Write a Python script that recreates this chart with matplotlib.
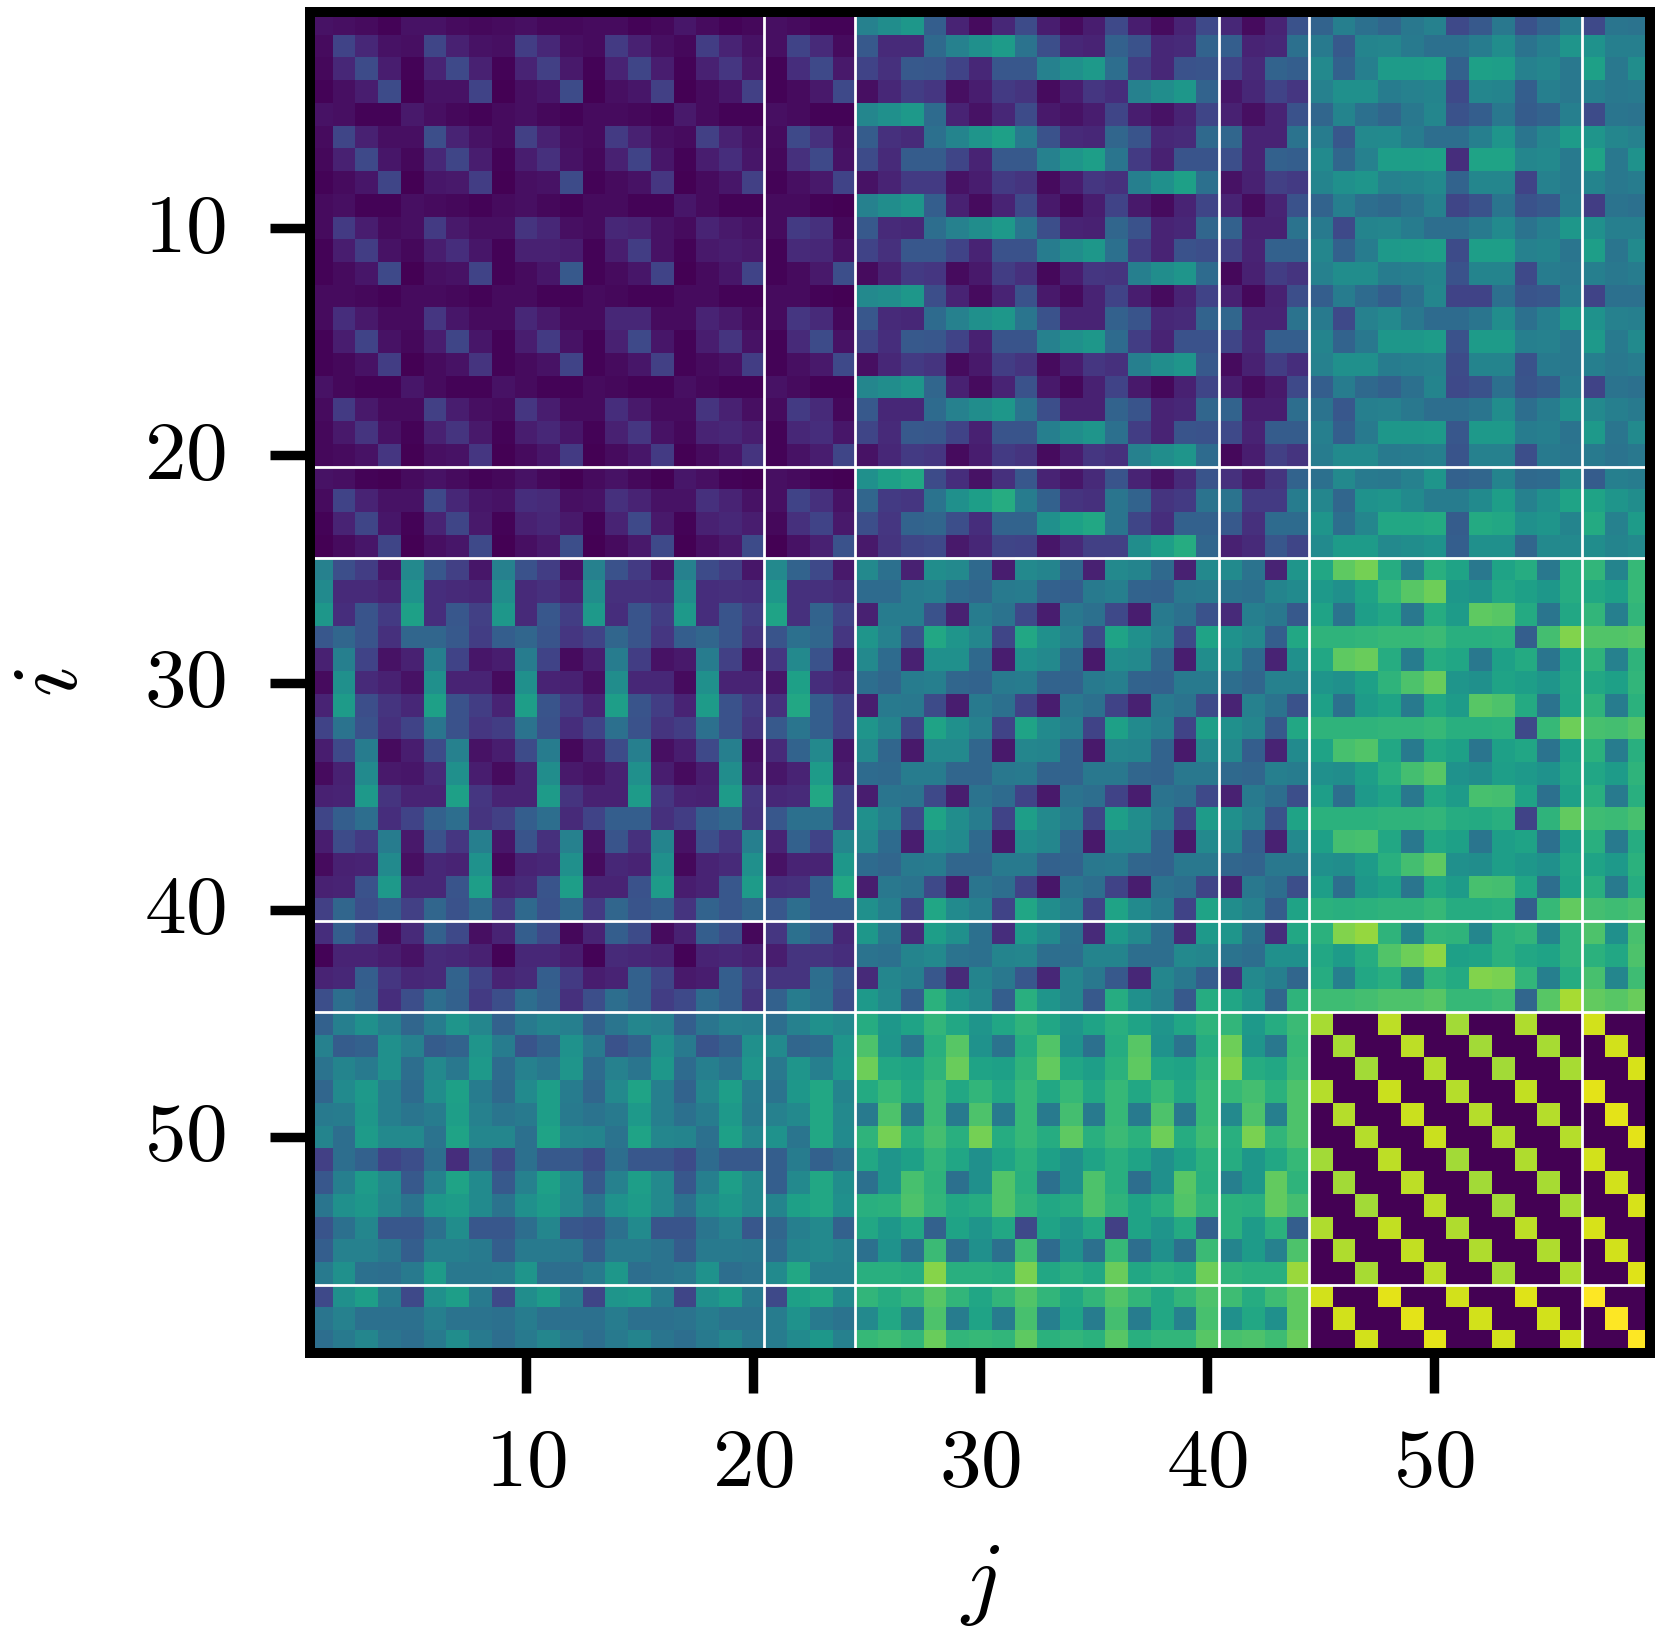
import matplotlib
matplotlib.use('Agg')
import matplotlib.pyplot as plt
import numpy as np

plt.rcParams['mathtext.fontset'] = 'cm'

# cell values in percent of the colour range
rows_01_20 = [
    [5,4,3,1,5,5,3,2,3,4,2,2,3,3,1,2,6,3,1,2, 4,3,1,1, 44,49,53,30,10,3,11,23,8,3,8,22,8,3,10,22, 11,3,10,25, 32,43,37,33,40,44,22,28,40,25,32,42, 22,39,38],
    [3,20,11,5,4,21,9,5,4,18,11,4,3,17,9,4,2,18,10,5, 4,20,12,3, 28,12,12,34,44,50,55,38,24,11,10,31,25,11,12,32, 30,10,11,37, 41,28,45,46,41,37,37,42,49,38,43,52, 51,43,43],
    [2,11,23,8,1,10,22,9,1,10,19,7,1,10,21,8,1,9,16,7, 1,13,22,7, 20,14,28,27,20,11,27,27,44,50,54,36,18,11,25,26, 20,12,32,30, 47,31,43,55,55,56,31,57,56,44,46,40, 57,40,49],
    [1,4,8,23,0,5,5,20,0,4,6,23,0,4,6,19,0,3,6,19, 1,3,7,22, 4,11,18,16,4,8,17,15,3,8,16,13,44,49,53,32, 6,11,20,16, 44,50,50,42,44,45,22,46,45,30,43,40, 43,40,41],
    [5,4,1,1,7,4,2,1,3,4,2,1,3,3,2,1,7,3,1,1, 4,3,1,1, 46,50,54,35,10,5,11,23,7,5,8,21,8,5,10,21, 9,4,10,25, 33,45,37,33,40,46,25,30,40,29,32,43, 23,39,38],
    [3,21,9,4,4,24,10,5,3,19,9,4,3,17,9,4,3,19,9,5, 3,22,14,4, 29,14,12,37,45,52,57,41,25,12,11,33,26,11,12,34, 33,10,10,38, 42,27,47,48,42,36,36,43,52,39,46,55, 52,46,44],
    [2,9,22,6,2,11,21,8,1,8,14,5,2,9,20,6,1,8,13,6, 2,14,22,5, 23,12,29,29,21,10,28,28,44,52,56,39,17,9,26,26, 24,10,31,30, 48,33,44,56,56,57,13,58,58,46,47,41, 58,40,51],
    [1,3,6,21,0,6,7,18,0,4,5,23,1,3,5,16,0,3,6,19, 1,4,7,20, 5,10,17,17,5,8,17,15,3,8,16,14,43,50,57,37, 5,9,19,17, 45,50,52,44,45,47,32,46,46,20,44,41, 45,40,42],
    [3,4,1,1,4,3,2,1,3,4,2,1,3,3,1,1,6,3,1,1, 3,3,1,0, 44,49,52,30,9,3,10,22,7,2,8,20,7,3,10,21, 10,3,10,25, 32,43,36,34,38,44,21,25,39,25,28,42, 18,38,37],
    [3,17,8,3,4,17,7,4,4,15,11,4,3,11,10,5,3,10,7,5, 3,17,14,2, 28,12,11,36,44,49,54,39,24,10,9,33,25,10,11,33, 31,9,9,38, 41,22,45,46,42,36,36,41,48,38,43,53, 50,43,43],
    [1,8,18,5,2,8,13,6,1,9,9,8,1,8,18,5,1,7,8,7, 1,12,11,5, 20,14,27,27,20,10,25,25,42,49,53,37,18,10,25,24, 19,10,31,31, 46,31,42,54,55,56,23,56,56,44,45,39, 56,39,48],
    [1,3,6,22,0,4,5,20,1,3,6,28,1,3,6,20,0,3,6,20, 1,3,7,24, 3,9,17,16,3,7,18,14,2,8,16,15,43,49,52,35, 2,9,18,15, 44,49,49,42,43,45,25,45,45,22,42,40, 43,40,42],
    [3,3,2,1,3,3,2,1,3,3,1,1,3,2,1,1,3,3,1,1, 3,3,1,0, 47,49,53,24,10,3,10,25,7,3,10,20,8,3,10,20, 9,2,9,24, 30,42,35,30,37,46,20,20,37,26,27,42, 20,37,37],
    [3,13,7,3,3,16,6,3,3,11,7,3,3,11,11,3,3,10,7,3, 3,16,12,2, 27,12,11,35,44,50,53,39,25,10,10,31,26,11,12,32, 33,10,10,38, 41,22,44,47,40,35,35,39,49,37,43,53, 51,44,43],
    [1,8,20,5,2,8,21,6,1,8,17,5,1,9,22,6,1,8,15,5, 1,12,23,5, 21,13,28,27,20,9,26,26,44,50,53,35,18,10,25,25, 21,11,30,30, 45,32,40,53,53,55,25,55,55,43,44,40, 54,41,48],
    [1,2,5,18,0,3,5,15,1,3,5,20,1,3,6,19,1,3,5,18, 1,4,7,22, 4,11,17,15,3,7,18,15,3,8,16,14,43,49,52,28, 3,9,18,13, 44,50,50,42,43,44,23,45,45,25,41,40, 43,40,42],
    [5,2,1,1,6,3,1,1,5,3,1,1,3,2,1,1,4,2,1,1, 5,3,1,1, 46,49,52,33,9,3,10,25,7,2,9,20,7,2,9,21, 8,3,7,22, 30,42,34,31,37,45,22,25,37,26,29,42, 20,38,37],
    [3,17,7,3,3,19,8,4,3,16,8,3,3,13,7,3,3,15,9,4, 3,17,12,2, 28,11,11,35,44,49,53,38,24,9,9,32,26,10,11,33, 32,8,8,36, 38,27,43,44,40,36,36,39,49,36,42,50, 47,43,41],
    [2,7,15,5,1,9,15,7,1,8,11,6,1,9,16,5,2,10,11,8, 1,11,13,6, 21,12,28,27,20,9,26,26,43,49,52,37,18,10,26,25, 22,10,29,29, 43,30,41,53,53,54,27,54,54,42,43,38, 54,39,48],
    [2,3,5,16,0,4,5,16,0,3,6,17,0,3,6,17,0,3,6,15, 1,5,8,21, 5,11,17,16,3,8,17,15,3,8,16,14,44,49,52,35, 2,8,19,15, 42,48,48,41,42,43,26,44,44,24,41,39, 41,38,40],
]

rows_21_24 = [
    [5,4,1,0,3,5,3,1,2,5,2,0,3,5,2,0,6,4,1,0, 4,3,1,0, 50,57,60,23,13,5,14,27,10,6,12,26,10,5,12,26, 14,7,15,32, 37,47,41,40,44,52,31,33,45,34,35,47, 29,43,42],
    [3,20,10,5,5,22,11,6,5,13,12,4,5,14,10,5,5,14,10,5, 4,20,14,5, 33,17,16,38,50,56,62,42,31,15,14,39,32,15,17,38, 38,17,17,42, 46,33,51,52,48,42,42,48,56,44,50,58, 58,52,49],
    [1,10,21,6,1,10,21,7,1,9,11,7,1,10,22,7,1,9,11,8, 2,14,20,7, 24,16,32,33,24,13,32,32,50,57,60,39,21,13,31,31, 28,14,35,35, 52,36,46,60,60,61,29,61,60,50,52,45, 61,44,55],
    [0,3,6,21,0,4,6,22,0,4,7,24,0,3,7,22,0,4,7,23, 0,5,9,25, 7,15,21,22,7,11,21,20,6,12,19,19,49,56,62,33, 9,12,27,21, 48,55,55,47,49,51,30,50,50,33,47,47, 49,45,47],
]

rows_25_40 = [
    [44,24,18,6,47,27,19,6,44,25,18,5,44,25,17,6,44,23,18,6, 47,32,22,7, 47,37,9,49,47,34,8,47,45,33,9,47,45,34,9,47, 48,38,10,52, 60,75,79,62,44,63,58,40,58,62,40,62, 66,45,67],
    [48,12,12,10,51,13,12,11,49,12,14,10,49,14,14,13,49,13,14,13, 53,14,14,12, 35,35,42,43,35,33,41,42,31,30,41,43,32,31,40,41, 38,37,45,48, 54,50,58,67,74,78,53,51,60,57,53,62, 60,57,67],
    [53,13,26,17,57,13,27,19,53,12,27,18,54,13,26,18,54,13,26,18, 58,14,32,20, 9,42,42,25,9,42,38,22,8,40,37,22,8,41,37,25, 12,43,40,28, 58,38,56,60,40,62,55,75,74,61,39,60, 66,43,66],
    [27,33,26,14,33,33,28,18,30,33,26,16,20,33,26,16,30,33,26,15, 26,37,33,16, 52,44,25,60,52,46,21,60,50,44,22,58,50,44,22,58, 51,47,30,60, 65,65,66,67,67,68,63,63,64,30,70,81, 73,73,74],
    [9,43,20,5,9,43,20,6,8,42,20,3,8,42,18,5,7,42,19,5, 16,47,25,6, 47,35,9,50,50,34,8,50,47,34,7,49,47,33,8,49, 48,35,10,50, 60,75,77,62,42,62,59,40,57,61,39,58, 65,44,65],
    [3,50,12,9,5,50,10,10,3,50,10,9,4,49,11,11,3,50,10,10, 6,57,13,10, 36,33,42,43,33,32,41,42,32,32,41,43,32,31,41,41, 36,33,44,44, 52,50,57,65,72,77,52,50,58,56,52,60, 60,57,66],
    [10,55,24,15,11,57,25,18,10,56,26,17,10,56,26,18,10,55,25,17, 14,60,30,20, 8,41,40,23,8,41,37,20,8,40,37,20,9,41,38,23, 10,44,38,25, 57,37,55,58,41,60,55,74,72,61,38,59, 65,42,64],
    [20,38,25,14,20,39,25,16,18,38,25,13,20,37,25,15,18,37,25,15, 28,39,30,20, 52,45,21,58,50,44,20,58,48,43,20,57,48,43,20,56, 50,46,28,60, 65,65,65,66,66,67,63,63,64,22,67,78, 71,70,73],
    [8,22,42,3,8,23,44,5,8,23,42,2,8,23,43,4,8,22,43,4, 12,32,47,6, 47,33,7,47,47,33,7,46,45,32,7,46,45,32,7,47, 47,30,10,48, 58,71,73,60,41,60,57,39,57,59,38,57, 64,42,63],
    [3,9,48,7,6,12,50,8,3,10,49,7,5,9,50,8,3,8,49,7, 6,10,55,8, 35,34,42,42,33,33,40,41,32,32,40,40,33,32,40,40, 34,33,43,42, 50,49,56,63,70,74,51,49,56,54,51,59, 59,55,65],
    [9,10,54,15,10,10,57,16,10,10,55,15,9,9,55,16,10,9,55,16, 11,12,60,20, 8,39,38,22,8,38,35,20,7,38,36,20,8,38,36,22, 9,41,36,24, 56,36,54,58,40,60,55,71,70,58,37,57, 63,41,63],
    [21,30,36,13,20,31,36,15,19,30,36,12,20,30,30,14,18,30,34,15, 27,37,37,20, 50,43,22,58,49,42,20,56,47,42,21,56,49,41,20,55, 50,44,25,58, 64,64,64,65,65,66,62,61,63,20,65,76, 69,68,71],
    [8,23,17,42,7,25,16,43,6,26,14,44,5,26,14,45,5,24,16,43, 10,31,20,46, 47,35,8,50,48,34,7,49,46,33,7,48,47,32,7,47, 46,30,9,47, 57,70,71,60,40,60,57,39,56,58,37,56, 63,41,62],
    [3,9,10,48,4,11,10,51,2,10,11,50,3,11,10,50,2,10,12,50, 5,10,10,53, 35,33,41,42,33,33,41,41,31,32,40,41,33,32,40,40, 33,32,40,40, 50,49,55,63,70,75,50,49,56,53,50,59, 58,54,64],
    [9,10,25,54,11,11,26,56,10,12,26,56,10,10,25,55,8,10,27,55, 13,14,30,60, 8,40,38,22,8,39,36,20,6,39,36,20,8,38,36,21, 9,40,36,24, 56,36,53,57,39,60,55,71,70,59,36,58, 63,41,62],
    [19,33,24,30,19,33,25,34,18,34,25,34,17,33,26,30,15,32,27,33, 27,36,30,30, 50,43,21,59,48,43,20,59,49,43,20,58,48,42,20,58, 49,44,29,58, 64,63,64,65,65,67,62,62,63,30,67,76, 70,69,71],
]

rows_41_44 = [
    [13,30,21,3,12,31,22,4,10,30,22,2,10,30,23,3,9,30,24,2, 16,37,31,11, 53,40,12,56,50,37,13,54,48,37,12,54,47,36,12,54, 52,38,13,60, 64,81,84,65,45,66,65,46,64,66,45,65, 72,50,71],
    [1,10,10,8,5,12,11,9,1,11,11,8,1,12,11,10,1,10,11,9, 8,15,15,13, 38,37,45,47,38,37,45,46,36,36,45,45,36,36,47,46, 38,36,50,50, 60,55,62,73,78,83,57,58,64,60,58,65, 64,60,72],
    [10,11,30,16,11,12,32,20,10,12,30,17,8,10,31,21,7,8,30,18, 15,15,36,27, 12,46,43,27,12,45,40,27,11,46,40,28,11,46,40,30, 13,47,43,33, 62,43,60,63,45,65,61,81,80,66,43,62, 71,46,69],
    [24,36,31,13,24,36,31,17,24,36,31,14,24,36,31,18,22,35,30,15, 31,42,37,24, 54,47,30,64,52,47,30,63,52,46,28,62,50,44,28,62, 59,52,33,65, 69,69,70,72,72,74,67,67,69,33,74,87, 76,74,77],
]

rows_45_56 = [
    [31,43,50,43,33,42,52,46,31,41,45,43,31,39,46,44,30,39,44,43, 36,44,50,47, 62,53,58,66,60,52,59,65,59,52,58,63,58,52,59,65, 66,54,62,68, 87,0,0,90,0,0,86,0,0,88,0,0, 93,0,0],
    [44,29,31,50,44,29,32,52,42,26,32,51,41,25,31,50,41,26,31,50, 48,33,35,52, 72,52,39,63,74,51,38,62,73,51,37,62,74,51,38,62, 78,52,40,67, 0,87,0,0,90,0,0,86,0,0,87,0, 0,93,0],
    [38,45,41,50,36,47,40,54,35,44,40,52,35,44,39,53,35,43,38,52, 40,52,43,53, 78,60,58,65,77,58,57,65,76,59,56,64,75,59,58,65, 81,62,60,68, 0,0,86,0,0,89,0,0,86,0,0,87, 0,0,94],
    [33,48,54,43,35,49,57,42,34,48,56,42,33,47,58,43,32,46,56,42, 38,53,60,45, 61,67,60,68,60,66,60,67,60,67,60,67,60,67,60,67, 67,70,64,72, 89,0,0,92,0,0,89,0,0,91,0,0, 96,0,0],
    [41,42,53,43,39,42,56,44,39,41,56,41,38,41,54,43,37,42,54,41, 44,47,60,47, 41,72,40,68,41,72,41,67,41,70,41,67,41,72,40,67, 47,72,43,72, 0,89,0,0,92,0,0,89,0,0,89,0, 0,96,0],
    [45,36,55,47,47,38,58,46,46,37,58,46,45,38,58,46,45,37,57,46, 51,39,60,48, 65,79,63,70,63,79,62,67,62,75,63,68,64,78,62,69, 63,80,66,72, 0,0,89,0,0,92,0,0,89,0,0,89, 0,0,96],
    [19,36,31,20,24,36,13,33,22,37,28,28,23,36,27,27,23,35,28,28, 30,42,31,36, 60,52,57,66,59,50,58,64,57,50,58,63,58,50,57,64, 62,53,60,67, 86,0,0,90,0,0,86,0,0,88,0,0, 93,0,0],
    [27,43,55,47,28,44,58,48,28,44,57,48,28,44,56,47,27,43,56,47, 30,47,60,49, 37,52,71,65,37,50,73,63,37,50,72,63,36,50,74,63, 43,53,76,65, 0,86,0,0,90,0,0,86,0,0,87,0, 0,93,0],
    [39,50,53,46,38,53,55,48,38,50,55,47,38,51,55,47,37,49,53,47, 45,57,60,50, 63,64,72,66,60,62,73,65,60,62,72,65,58,63,73,66, 64,63,76,70, 0,0,86,0,0,90,0,0,86,0,0,87, 0,0,94],
    [26,37,46,27,27,37,49,27,27,36,46,27,25,37,48,26,26,39,44,27, 33,43,47,31, 60,53,60,31,58,52,60,22,58,52,60,19,58,52,61,31, 64,55,64,30, 88,0,0,91,0,0,88,0,0,90,0,0, 94,0,0],
    [30,44,44,40,30,43,43,41,30,41,41,40,30,41,41,38,29,41,41,40, 35,45,47,44, 37,51,37,68,36,50,37,69,35,50,37,67,36,50,37,68, 45,55,44,72, 0,88,0,0,91,0,0,88,0,0,88,0, 0,93,0],
    [41,50,37,36,41,55,40,40,41,52,36,36,41,53,36,38,40,51,36,38, 48,60,43,43, 63,63,62,82,63,63,62,80,60,63,60,77,60,63,61,78, 65,63,63,85, 0,0,87,0,0,90,0,0,87,0,0,88, 0,0,95],
]

rows_57_59 = [
    [22,50,56,41,22,50,56,41,22,49,55,41,21,52,54,42,21,50,55,41, 22,57,60,47, 66,62,66,74,66,59,66,73,66,60,66,73,66,60,66,72, 69,62,69,75, 93,0,0,96,0,0,93,0,0,95,0,0, 100,0,0],
    [39,44,37,37,37,43,38,38,37,42,37,37,37,42,37,37,38,42,38,38, 42,51,41,38, 47,60,44,72,42,58,42,71,43,58,42,70,42,60,44,71, 50,60,50,75, 0,93,0,0,96,0,0,93,0,0,93,0, 0,100,0],
    [36,41,46,39,36,41,49,41,36,41,46,40,36,41,45,39,36,41,46,40, 42,48,53,44, 67,69,66,77,66,67,66,75,64,66,64,74,63,66,66,74, 71,72,69,77, 0,0,93,0,0,96,0,0,93,0,0,93, 0,0,100],
]

block_edges = [20.5, 24.5, 40.5, 44.5, 56.5]
tick_values = [10, 20, 30, 40, 50]
tick_labels = ['$10$', '$20$', '$30$', '$40$', '$50$']

matrix = np.array(rows_01_20 + rows_21_24 + rows_25_40 + rows_41_44 + rows_45_56 + rows_57_59)

W, H = 1662, 1639
fig = plt.figure(figsize=(W / 100, H / 100), dpi=100)
ax = fig.add_axes([309.7 / W, 1 - 1352.8 / H, 1340.5 / W, 1340.5 / H])

ax.imshow(matrix, cmap='viridis', vmin=0, vmax=100, interpolation='nearest', aspect='auto',
          extent=(0.5, 59.5, 59.5, 0.5))

for edge in block_edges:
    ax.axvline(edge, color='white', lw=2)
    ax.axhline(edge, color='white', lw=2)

ax.set_xticks(tick_values)
ax.set_yticks(tick_values)
ax.set_xticklabels(tick_labels)
ax.set_yticklabels(tick_labels, va='center')
ax.tick_params(axis='both', length=29, width=6.8, labelsize=60)
ax.tick_params(axis='x', pad=21)
ax.tick_params(axis='y', pad=31.5)
ax.set_xlabel('$j$', fontsize=67, labelpad=25)
ax.set_ylabel('$i$', fontsize=67, labelpad=34)

for spine in ax.spines.values():
    spine.set_linewidth(7.2)

fig.savefig('out.png', dpi=100)
